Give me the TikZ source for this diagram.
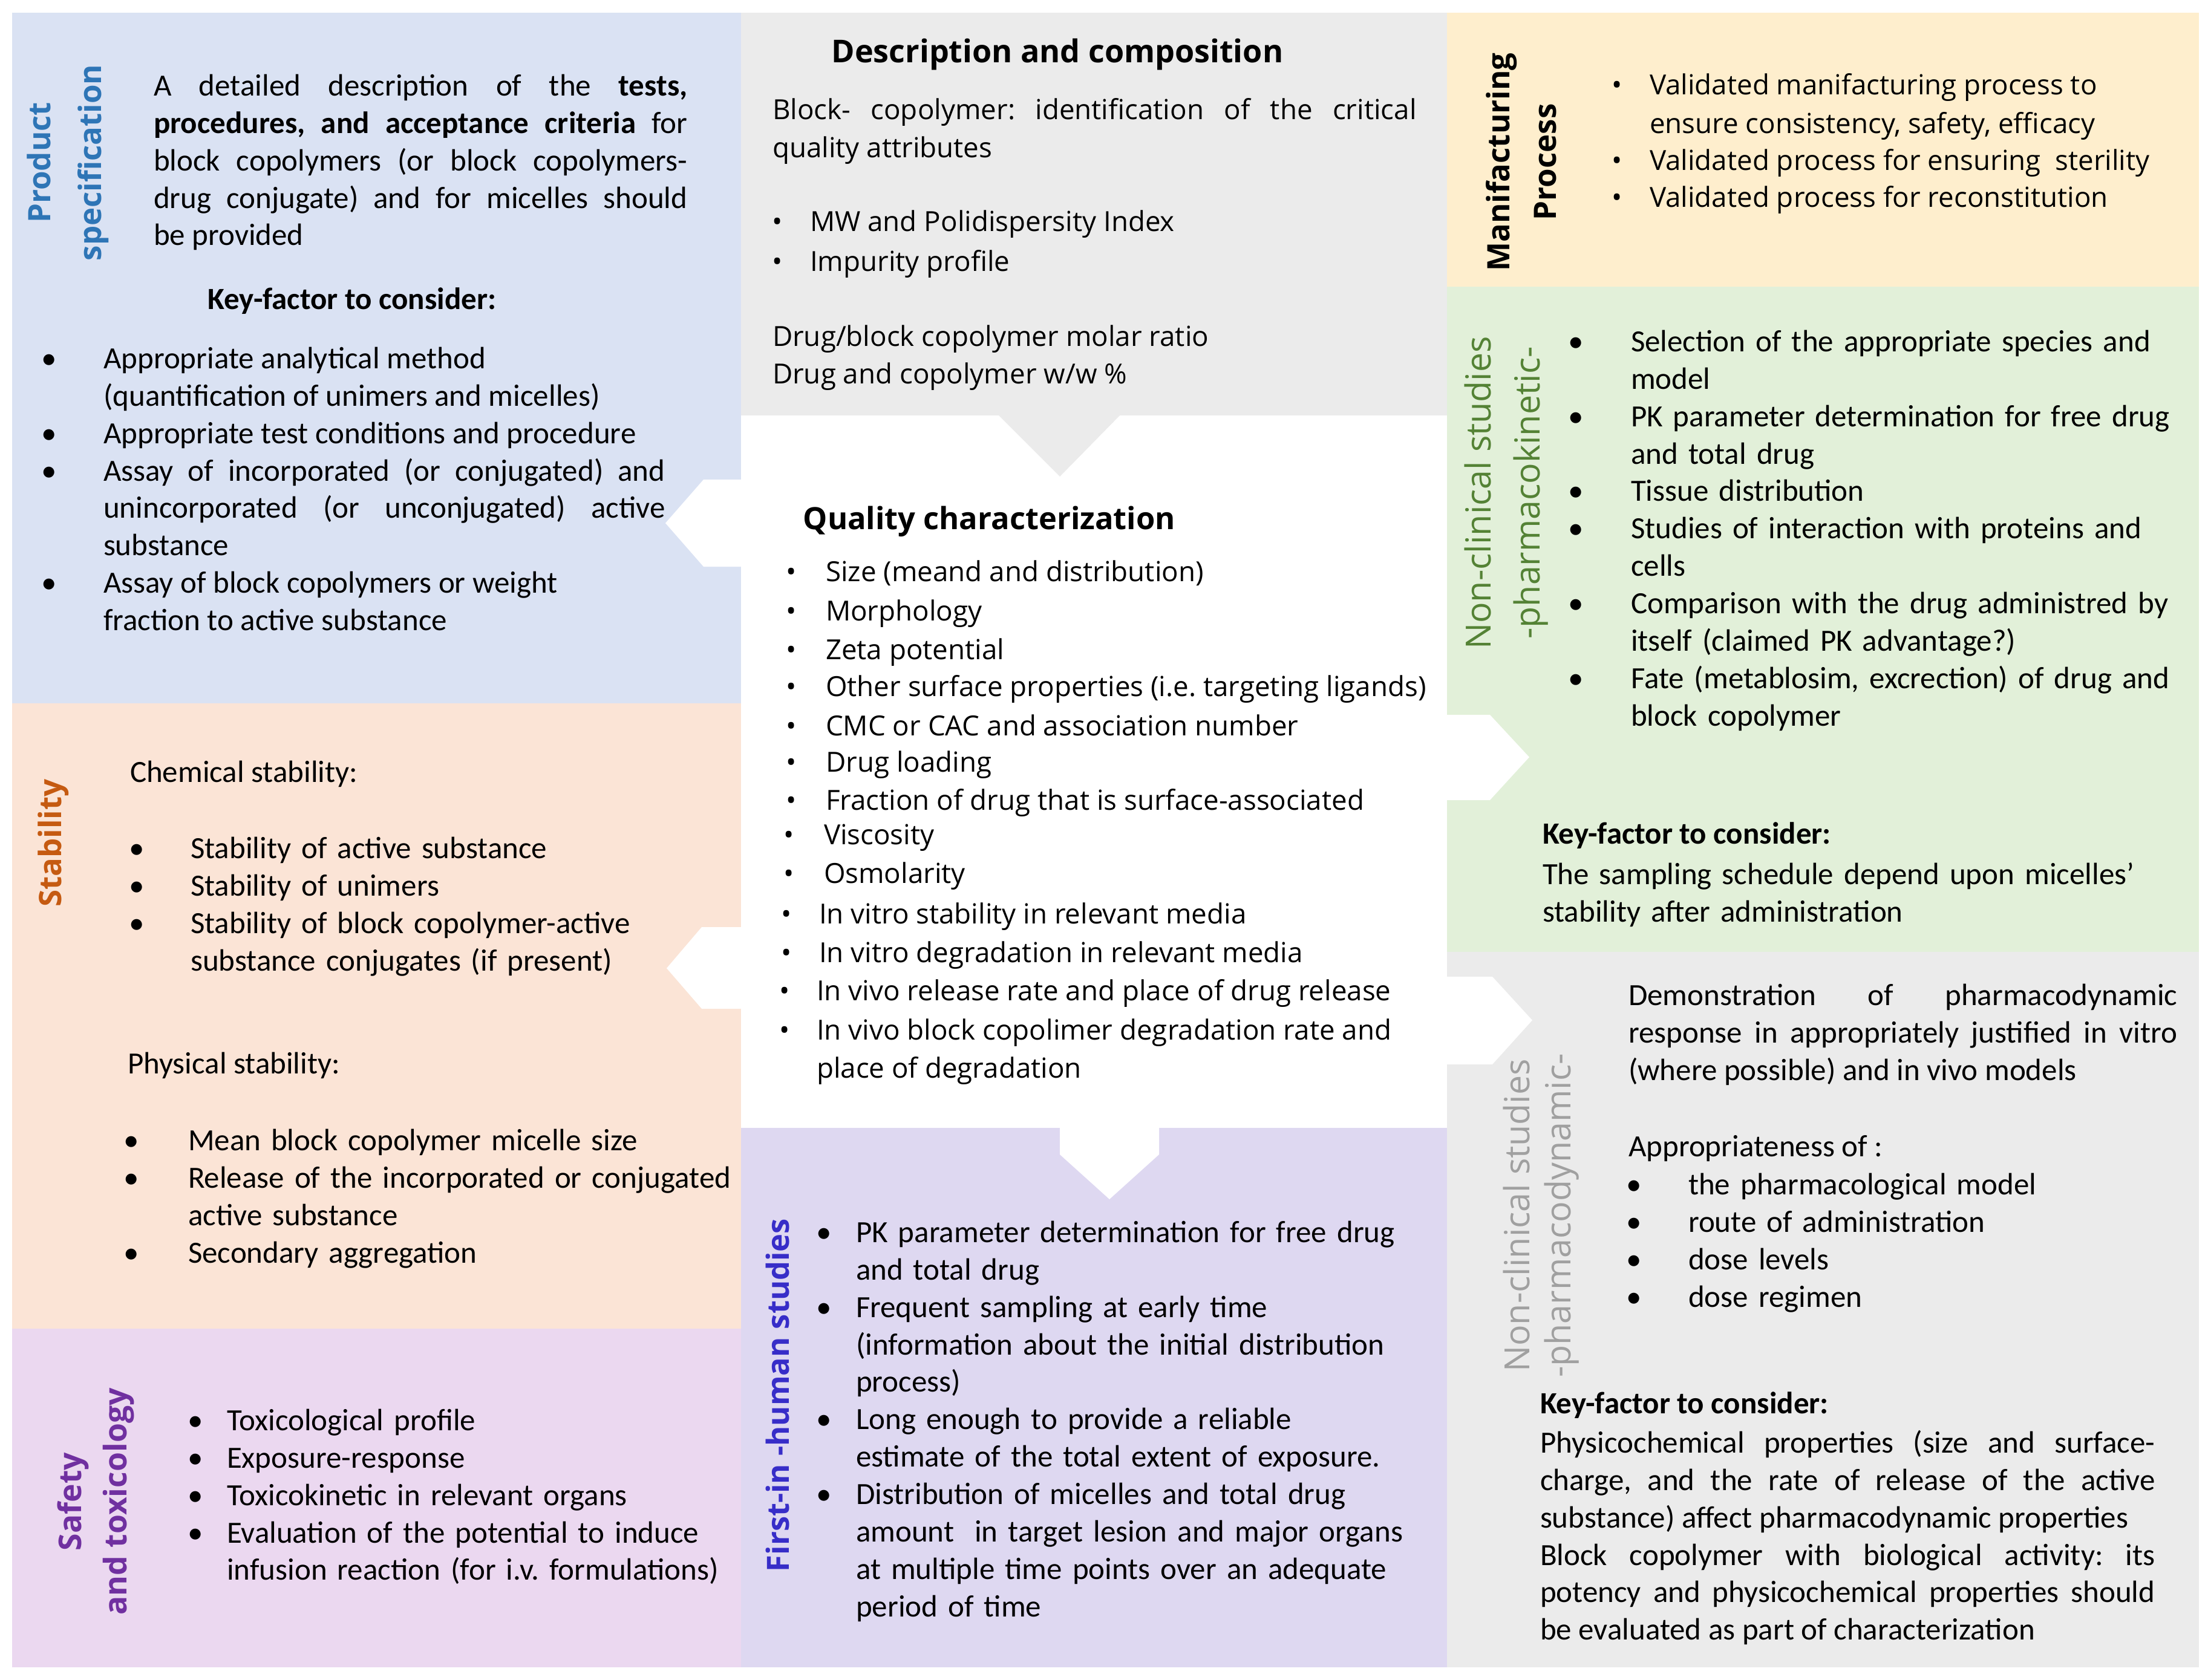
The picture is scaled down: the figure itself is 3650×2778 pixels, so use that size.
\documentclass[tikz,border=0pt]{standalone}
\usepackage{fontspec}
\setmainfont{Carlito}
\newfontfamily\osans{Open Sans}
\definecolor{cblue}{RGB}{218,226,243}
\definecolor{cpeach}{RGB}{251,228,214}
\definecolor{csafe}{RGB}{235,216,240}
\definecolor{clav}{RGB}{222,216,241}
\definecolor{cgray}{RGB}{235,235,235}
\definecolor{cyel}{RGB}{254,238,205}
\definecolor{cgreen}{RGB}{226,240,217}
\definecolor{tps}{RGB}{46,117,182}
\definecolor{tstab}{RGB}{197,90,17}
\definecolor{tsafe}{RGB}{112,48,160}
\definecolor{tfih}{RGB}{55,45,200}
\definecolor{tpk}{RGB}{84,130,53}
\definecolor{tpd}{RGB}{160,160,160}
\newcommand\fb{\fontsize{14.5}{17.6}\selectfont}
\newcommand\fm{\osans\fontsize{13}{17.6}\selectfont}
\newcommand\bi[2]{\hangindent=#1\hangafter=1\noindent\makebox[#1][l]{\textbullet}\strut#2\par}
\newcommand\mb[2]{\makebox[#1][l]{\textbullet}#2}
\tolerance=10000 \hbadness=10000
\frenchspacing
\tikzset{
  blk/.style={anchor=north west, inner sep=0pt, outer sep=0pt, align=left, font=\fb},
  jblk/.style={blk, align=justify},
  ln/.style={anchor=west, inner sep=0pt, outer sep=0pt, font=\fm, yshift=-0.06cm},
  lnb/.style={anchor=west, inner sep=0pt, outer sep=0pt, font=\fb},
  ttl/.style={rotate=90, align=center, inner sep=0pt}
}
\begin{document}
\begin{tikzpicture}[x=0.01cm,y=-0.01cm]
\useasboundingbox (0,0) rectangle (3650,2778);
\fill[white] (0,0) rectangle (3650,2778);
% panels
\fill[cblue] (20,21) rectangle (1225,1163);
\fill[cpeach] (20,1163) rectangle (1225,2197);
\fill[csafe] (20,2197) rectangle (1225,2757);
\fill[cgray] (1225,21) rectangle (2392,687);
\fill[clav] (1225,1865) rectangle (2392,2757);
\fill[cyel] (2392,21) rectangle (3635,474);
\fill[cgreen] (2392,474) rectangle (3635,1574);
\fill[cgray] (2392,1574) rectangle (3635,2757);
% arrow shapes
\fill[white] (1230,793) -- (1163,793) -- (1100,865) -- (1163,937) -- (1230,937) -- cycle;
\fill[white] (1230,1533) -- (1160,1533) -- (1102,1601) -- (1160,1668) -- (1230,1668) -- cycle;
\fill[white] (2388,1182) -- (2463,1182) -- (2528,1252) -- (2463,1323) -- (2388,1323) -- cycle;
\fill[white] (2388,1615) -- (2467,1615) -- (2533,1687) -- (2467,1760) -- (2388,1760) -- cycle;
\fill[white] (1752,1860) -- (1752,1909) -- (1834,1983) -- (1916,1909) -- (1916,1860) -- cycle;
\fill[cgray] (1650,686) -- (1852,686) -- (1752,788) -- cycle;

% ---------- Product specification
\node[ttl, font=\osans\bfseries\fontsize{14.5}{23.9}\selectfont, text=tps] (pst) at (112,269) {Product\\specification};
\node[jblk, text width=8.82cm] (psd) at (254,115) {\strut A detailed description of the \textbf{tests,}\linebreak \textbf{procedures, and acceptance criteria} for\linebreak block copolymers (or block copolymers-\linebreak drug conjugate) and for micelles should\linebreak be provided};
\node[lnb, anchor=center, font=\fb\bfseries] (psk) at (582,498) {Key-factor to consider:};
\node[jblk, text width=10.31cm] (psl) at (68,566) {\bi{1.03cm}{Appropriate analytical method\newline (quantification of unimers and micelles)}\bi{1.03cm}{Appropriate test conditions and procedure}\bi{1.03cm}{Assay of incorporated (or conjugated) and\linebreak unincorporated (or unconjugated) active\linebreak substance}\bi{1.03cm}{Assay of block copolymers or weight\newline fraction to active substance}};

% ---------- Stability
\node[ttl, font=\osans\bfseries\fontsize{14.5}{20}\selectfont, text=tstab] (stt) at (88,1394) {Stability};
\node[lnb] (stc) at (215,1281) {\strut Chemical stability:};
\node[blk, text width=11cm] (stcl) at (213,1376) {\bi{1.02cm}{Stability of active substance}\bi{1.02cm}{Stability of unimers}\bi{1.02cm}{Stability of block copolymer-active\newline substance conjugates (if present)}};
\node[lnb] (stp) at (211,1763) {\strut Physical stability:};
\node[blk, text width=11cm] (stpl) at (204,1859) {\bi{1.07cm}{Mean block copolymer micelle size}\bi{1.07cm}{Release of the incorporated or conjugated\newline active substance}\bi{1.07cm}{Secondary aggregation}};

% ---------- Safety
\node[ttl, font=\osans\bfseries\fontsize{14.7}{21.3}\selectfont, text=tsafe] (sft) at (158,2483) {Safety\\and toxicology};
\node[blk, text width=9cm] (sfl) at (310,2322) {\bi{0.65cm}{Toxicological profile}\bi{0.65cm}{Exposure-response}\bi{0.65cm}{Toxicokinetic in relevant organs}\bi{0.65cm}{Evaluation of the potential to induce\newline infusion reaction (for i.v. formulations)}};

% ---------- Description and composition
\node[anchor=center, inner sep=0pt, font=\osans\bfseries\fontsize{14.8}{18}\selectfont] (dct) at (1748,90) {Description and composition};
\node[ln] (dc1) at (1277,179) {\strut\makebox[10.64cm][s]{Block- copolymer: identification of the critical}};
\node[ln] (dc2) at (1277,242) {\strut quality attributes};
\node[ln] (dc3) at (1276,364) {\strut\mb{0.63cm}{MW and Polidispersity Index}};
\node[ln] (dc4) at (1276,430) {\strut\mb{0.63cm}{Impurity profile}};
\node[ln] (dc5) at (1277,554) {\strut Drug/block copolymer molar ratio};
\node[ln] (dc6) at (1277,616) {\strut Drug and copolymer w/w \%};

% ---------- Quality characterization
\node[anchor=west, inner sep=0pt, font=\osans\bfseries\fontsize{14.4}{18}\selectfont] (qct) at (1327,862) {Quality characterization};
\node[ln] (q1) at (1299,943) {\strut\mb{0.66cm}{Size (meand and distribution)}};
\node[ln] (q2) at (1299,1008) {\strut\mb{0.66cm}{Morphology}};
\node[ln] (q3) at (1299,1072) {\strut\mb{0.66cm}{Zeta potential}};
\node[ln] (q4) at (1299,1133) {\strut\mb{0.66cm}{Other surface properties (i.e. targeting ligands)}};
\node[ln] (q5) at (1299,1198) {\strut\mb{0.66cm}{CMC or CAC and association number}};
\node[ln] (q6) at (1299,1258) {\strut\mb{0.66cm}{Drug loading}};
\node[ln] (q7) at (1299,1321) {\strut\mb{0.66cm}{Fraction of drug that is surface-associated}};
\node[ln] (q8) at (1295,1378) {\strut\mb{0.67cm}{Viscosity}};
\node[ln] (q9) at (1295,1442) {\strut\mb{0.67cm}{Osmolarity}};
\node[ln] (q10) at (1291,1509) {\strut\mb{0.63cm}{In vitro stability in relevant media}};
\node[ln] (q11) at (1291,1573) {\strut\mb{0.63cm}{In vitro degradation in relevant media}};
\node[ln] (q12) at (1288,1636) {\strut\mb{0.62cm}{In vivo release rate and place of drug release}};
\node[ln] (q13) at (1288,1701) {\strut\mb{0.62cm}{In vivo block copolimer degradation rate and}};
\node[ln] (q14) at (1350,1764) {\strut place of degradation};

% ---------- First-in-human
\node[ttl, font=\osans\bfseries\fontsize{14.4}{18}\selectfont, text=tfih] (fht) at (1285,2307) {First-in -human studies};
\node[blk, text width=10.2cm] (fhl) at (1349,2011) {\bi{0.66cm}{PK parameter determination for free drug\newline and total drug}\bi{0.66cm}{Frequent sampling at early time\newline (information about the initial distribution\newline process)}\bi{0.66cm}{Long enough to provide a reliable\newline estimate of the total extent of exposure.}\bi{0.66cm}{Distribution of micelles and total drug\newline amount\ \ in target lesion and major organs\newline at multiple time points over an adequate\newline period of time}};

% ---------- Manufacturing
\node[ttl, font=\osans\bfseries\fontsize{14.5}{21.9}\selectfont, text=black] (mpt) at (2515,268) {Manifacturing\\Process};
\node[ln] (mp1) at (2664,138) {\strut\mb{0.63cm}{Validated manifacturing process to}};
\node[ln] (mp2) at (2727,202) {\strut ensure consistency, safety, efficacy};
\node[ln] (mp3) at (2664,263) {\strut\mb{0.63cm}{Validated process for ensuring\ \ sterility}};
\node[ln] (mp4) at (2664,324) {\strut\mb{0.63cm}{Validated process for reconstitution}};

% ---------- PK
\node[ttl, font=\osans\fontsize{16.3}{23}\selectfont, text=tpk] (pkt) at (2490,815) {Non-clinical studies\\-pharmacokinetic-};
\node[blk, text width=10.2cm] (pkl) at (2592,538) {\bi{1.04cm}{Selection of the appropriate species and\newline model}\bi{1.04cm}{PK parameter determination for free drug\newline and total drug}\bi{1.04cm}{Tissue distribution}\bi{1.04cm}{Studies of interaction with proteins and\newline cells}\bi{1.04cm}{Comparison with the drug administred by\newline itself (claimed PK advantage?)}\bi{1.04cm}{Fate (metablosim, excrection) of drug and\newline block copolymer}};
\node[lnb, font=\fb\bfseries] (pkk) at (2550,1383) {\strut Key-factor to consider:};
\node[blk, text width=10.5cm] (pkd) at (2550,1419) {\strut The sampling schedule depend upon micelles’\newline stability after administration};

% ---------- PD
\node[ttl, font=\osans\fontsize{16.3}{19.3}\selectfont, text=tpd] (pdt) at (2548,2010) {Non-clinical studies\\-pharmacodynamic-};
\node[jblk, text width=9.07cm] (pdd) at (2692,1619) {\strut Demonstration of pharmacodynamic\linebreak response in appropriately justified in vitro\linebreak (where possible) and in vivo models};
\node[lnb] (pda) at (2692,1900) {\strut Appropriateness of :};
\node[blk, text width=9cm] (pdl) at (2688,1932) {\bi{1.03cm}{the pharmacological model}\bi{1.03cm}{route of administration}\bi{1.03cm}{dose levels}\bi{1.03cm}{dose regimen}};
\node[lnb, font=\fb\bfseries] (pdk) at (2546,2325) {\strut Key-factor to consider:};
\node[jblk, text width=10.16cm] (pdp) at (2546,2359) {\strut Physicochemical properties (size and surface-\linebreak charge, and the rate of release of the active\linebreak substance) affect pharmacodynamic properties\par\noindent\strut Block copolymer with biological activity: its\linebreak potency and physicochemical properties should\linebreak be evaluated as part of characterization};
\end{tikzpicture}
\end{document}
